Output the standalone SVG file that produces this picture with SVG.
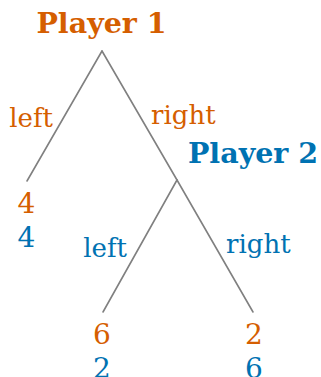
<svg xmlns="http://www.w3.org/2000/svg" width="321" height="377" viewBox="0 0 321 377">
<style>
.edge{stroke:#808080;stroke-width:1.6;fill:none;stroke-linecap:round}
.t{font-family:"DejaVu Serif",serif;font-size:26px}
.n{font-family:"DejaVu Serif",serif;font-size:28px}
.b{font-family:"DejaVu Serif",serif;font-weight:bold;font-size:28.5px}
.p1{fill:#D55E00}
.p2{fill:#0072B2}
</style>
<rect width="321" height="377" fill="#fff"/>
<g id="connectors">
<line class="edge" x1="102" y1="51" x2="27" y2="181"/>
<line class="edge" x1="102" y1="51" x2="177" y2="180"/>
<line class="edge" x1="177" y1="180" x2="103" y2="312"/>
<line class="edge" x1="177" y1="180" x2="253" y2="312"/>
</g>
<g id="node-player1">
<text class="b p1" x="101.5" y="33" text-anchor="middle">Player 1</text>
</g>
<g id="label-p1-left">
<text class="t p1" x="53" y="127" text-anchor="end">left</text>
</g>
<g id="label-p1-right">
<text class="t p1" x="151" y="124">right</text>
</g>
<g id="node-player2">
<text class="b p2" x="253" y="163" text-anchor="middle">Player 2</text>
</g>
<g id="label-p2-left">
<text class="t p2" x="127" y="257" text-anchor="end">left</text>
</g>
<g id="label-p2-right">
<text class="t p2" x="226" y="253">right</text>
</g>
<g id="leaf-left">
<text class="n p1" x="26.5" y="213" text-anchor="middle">4</text>
<text class="n p2" x="26.5" y="247" text-anchor="middle">4</text>
</g>
<g id="leaf-mid">
<text class="n p1" x="102" y="344" text-anchor="middle">6</text>
<text class="n p2" x="102" y="378" text-anchor="middle">2</text>
</g>
<g id="leaf-right">
<text class="n p1" x="254" y="344" text-anchor="middle">2</text>
<text class="n p2" x="254" y="378" text-anchor="middle">6</text>
</g>
</svg>
